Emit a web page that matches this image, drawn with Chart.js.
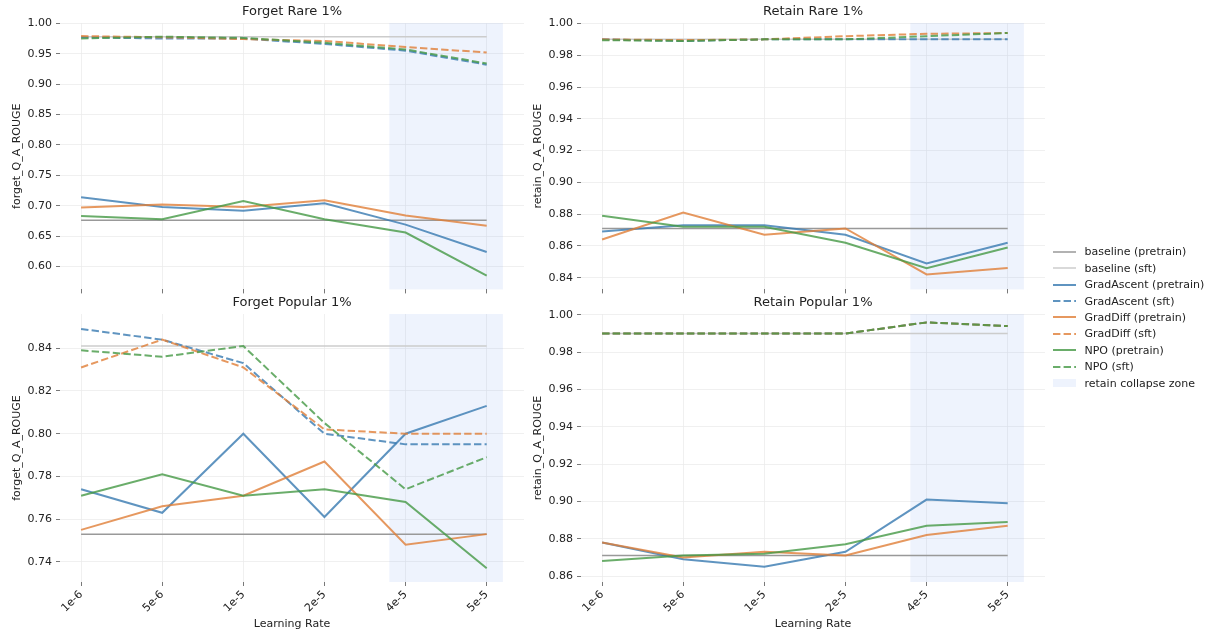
<!DOCTYPE html>
<html>
<head>
<meta charset="utf-8">
<script src="https://cdn.jsdelivr.net/npm/chart.js@4.4.0/dist/chart.umd.min.js"></script>
<style>
  body { margin: 0; background: #fff; width: 1210px; height: 635px; overflow: hidden; position: relative; font-family: "DejaVu Sans", sans-serif; }
  canvas { position: absolute; }
  #legend { position: absolute; left: 1053px; top: 243.5px; font-size: 11px; color: #222; }
  .row { height: 16.45px; display: flex; align-items: center; white-space: nowrap; }
  .row svg { margin-right: 8.5px; flex: none; }
</style>
</head>
<body>
<canvas id="c0" width="540" height="300" style="left:0;top:0"></canvas>
<canvas id="c1" width="540" height="300" style="left:521px;top:0"></canvas>
<canvas id="c2" width="540" height="345" style="left:0;top:290px"></canvas>
<canvas id="c3" width="540" height="345" style="left:521px;top:290px"></canvas>
<div id="legend"></div>

<script>
// Learning rates (x categories)
const learningRates = ['1e-6', '5e-6', '1e-5', '2e-5', '4e-5', '5e-5'];

// Forget Rare 1%
const frGA = [0.714, 0.698, 0.692, 0.704, 0.669, 0.624];
const frGD = [0.697, 0.702, 0.698, 0.709, 0.684, 0.667];
const frNPO = [0.683, 0.678, 0.708, 0.678, 0.656, 0.585];
const frGAsft = [0.977, 0.975, 0.975, 0.966, 0.955, 0.932];
const frGDsft = [0.979, 0.977, 0.974, 0.971, 0.961, 0.952];
const frNPOsft = [0.975, 0.978, 0.976, 0.968, 0.957, 0.934];
const frBase = 0.676, frBaseSft = 0.978;
const frTicks = [0.60, 0.65, 0.70, 0.75, 0.80, 0.85, 0.90, 0.95, 1.00];

// Retain Rare 1%
const rrGA = [0.869, 0.873, 0.873, 0.867, 0.849, 0.862];
const rrGD = [0.864, 0.881, 0.867, 0.871, 0.842, 0.846];
const rrNPO = [0.879, 0.872, 0.872, 0.862, 0.846, 0.859];
const rrGAsft = [0.990, 0.989, 0.990, 0.990, 0.990, 0.990];
const rrGDsft = [0.990, 0.9895, 0.990, 0.992, 0.9935, 0.994];
const rrNPOsft = [0.9895, 0.989, 0.990, 0.990, 0.992, 0.994];
const rrBase = 0.871, rrBaseSft = 0.990;
const rrTicks = [0.84, 0.86, 0.88, 0.90, 0.92, 0.94, 0.96, 0.98, 1.00];

// Forget Popular 1%
const fpGA = [0.774, 0.763, 0.800, 0.761, 0.800, 0.813];
const fpGD = [0.755, 0.766, 0.771, 0.787, 0.748, 0.753];
const fpNPO = [0.771, 0.781, 0.771, 0.774, 0.768, 0.737];
const fpGAsft = [0.849, 0.844, 0.833, 0.800, 0.795, 0.795];
const fpGDsft = [0.831, 0.844, 0.831, 0.802, 0.800, 0.800];
const fpNPOsft = [0.839, 0.836, 0.841, 0.805, 0.774, 0.789];
const fpBase = 0.753, fpBaseSft = 0.841;
const fpTicks = [0.74, 0.76, 0.78, 0.80, 0.82, 0.84];

// Retain Popular 1%
const rpGA = [0.878, 0.869, 0.865, 0.873, 0.901, 0.899];
const rpGD = [0.878, 0.870, 0.873, 0.871, 0.882, 0.887];
const rpNPO = [0.868, 0.871, 0.872, 0.877, 0.887, 0.889];
const rpGAsft = [0.990, 0.990, 0.990, 0.990, 0.996, 0.994];
const rpGDsft = [0.990, 0.990, 0.990, 0.990, 0.996, 0.994];
const rpNPOsft = [0.990, 0.990, 0.990, 0.990, 0.996, 0.994];
const rpBase = 0.871, rpBaseSft = 0.990;
const rpTicks = [0.86, 0.88, 0.90, 0.92, 0.94, 0.96, 0.98, 1.00];

// styles
const FONT = '"DejaVu Sans", sans-serif';
const blue = 'rgba(55,121,176,0.8)';
const orange = 'rgba(224,126,55,0.8)';
const green = 'rgba(69,152,69,0.8)';
const basePre = '#999999';
const baseSft = '#cccccc';
const spanColor = 'rgba(100,149,237,0.11)';
const gridColor = '#ececec';
const tickMark = '#555';
const dash = [7.4, 3.2];

// retain collapse zone spans 4e-5 .. 5e-5 (+-0.2 category)
const collapseFrom = learningRates.indexOf('4e-5') - 0.2;
const collapseTo = learningRates.indexOf('5e-5') + 0.2;

const toXY = arr => arr.map((v, i) => ({ x: i, y: v }));
const flat = v => learningRates.map((_, i) => ({ x: i, y: v }));

function makeSets(ga, gaS, gd, gdS, npo, npoS, b, bS) {
    const sets = [
        { label: 'baseline (pretrain)', data: flat(b), borderColor: basePre, borderWidth: 1.5 },
        { label: 'baseline (sft)', data: flat(bS), borderColor: baseSft, borderWidth: 1.5 },
        { label: 'GradAscent (pretrain)', data: toXY(ga), borderColor: blue, borderWidth: 2 },
        { label: 'GradAscent (sft)', data: toXY(gaS), borderColor: blue, borderWidth: 2, borderDash: dash },
        { label: 'GradDiff (pretrain)', data: toXY(gd), borderColor: orange, borderWidth: 2 },
        { label: 'GradDiff (sft)', data: toXY(gdS), borderColor: orange, borderWidth: 2, borderDash: dash },
        { label: 'NPO (pretrain)', data: toXY(npo), borderColor: green, borderWidth: 2 },
        { label: 'NPO (sft)', data: toXY(npoS), borderColor: green, borderWidth: 2, borderDash: dash }
    ];
    // later series drawn on top, like matplotlib
    sets.forEach((s, i) => { s.order = sets.length - i; s.pointRadius = 0; s.tension = 0; s.fill = false; });
    return sets;
}

// shaded zone + panel title
const panelPlugin = {
    id: 'panel',
    beforeDatasetsDraw(chart) {
        const { ctx, chartArea, scales } = chart;
        const x0 = scales.x.getPixelForValue(collapseFrom);
        const x1 = scales.x.getPixelForValue(collapseTo);
        ctx.save();
        ctx.fillStyle = spanColor;
        ctx.fillRect(x0, chartArea.top, x1 - x0, chartArea.bottom - chartArea.top);
        ctx.restore();
    },
    afterDraw(chart) {
        const { ctx, chartArea } = chart;
        ctx.save();
        ctx.font = '13px ' + FONT;
        ctx.fillStyle = '#222';
        ctx.textAlign = 'center';
        ctx.textBaseline = 'middle';
        ctx.fillText(chart.options.panelTitle, (chartArea.left + chartArea.right) / 2, chartArea.top - 11);
        ctx.restore();
    }
};

function makeChart(id, title, yLabel, sets, yMin, yMax, yTicks, bottomRow) {
    const ctx = document.getElementById(id).getContext('2d');
    return new Chart(ctx, {
        type: 'line',
        data: { datasets: sets },
        plugins: [panelPlugin],
        options: {
            panelTitle: title,
            responsive: false,
            animation: false,
            layout: { padding: { top: bottomRow ? 24 : 23, right: 16, left: 0, bottom: 0 } },
            plugins: { legend: { display: false }, tooltip: { enabled: false } },
            scales: {
                x: {
                    type: 'linear',
                    min: -0.26,
                    max: 5.46,
                    afterBuildTicks: s => { s.ticks = learningRates.map((_, i) => ({ value: i })); },
                    afterFit: s => { s.height = bottomRow ? 53 : 10; },
                    border: { display: false },
                    grid: { color: gridColor, lineWidth: 0.8, tickColor: tickMark, tickLength: 4 },
                    ticks: {
                        display: bottomRow,
                        autoSkip: false,
                        minRotation: 45,
                        maxRotation: 45,
                        padding: 2,
                        color: '#222',
                        font: { family: FONT, size: 11 },
                        callback: v => learningRates[v]
                    },
                    title: {
                        display: bottomRow,
                        text: 'Learning Rate',
                        color: '#222',
                        font: { family: FONT, size: 11 },
                        padding: { top: 4, bottom: 4 }
                    }
                },
                y: {
                    min: yMin,
                    max: yMax,
                    afterBuildTicks: s => { s.ticks = yTicks.map(v => ({ value: v })); },
                    afterFit: s => { s.width = 60; },
                    border: { display: false },
                    grid: { color: gridColor, lineWidth: 0.8, tickColor: tickMark, tickLength: 4 },
                    ticks: {
                        padding: 4,
                        color: '#222',
                        font: { family: FONT, size: 11 },
                        callback: v => v.toFixed(2)
                    },
                    title: {
                        display: true,
                        text: yLabel,
                        color: '#222',
                        font: { family: FONT, size: 11 },
                        padding: { top: 11, bottom: 11 }
                    }
                }
            }
        }
    });
}

makeChart('c0', 'Forget Rare 1%', 'forget_Q_A_ROUGE',
    makeSets(frGA, frGAsft, frGD, frGDsft, frNPO, frNPOsft, frBase, frBaseSft), 0.5625, 1.0005, frTicks, false);
makeChart('c1', 'Retain Rare 1%', 'retain_Q_A_ROUGE',
    makeSets(rrGA, rrGAsft, rrGD, rrGDsft, rrNPO, rrNPOsft, rrBase, rrBaseSft), 0.8326, 1.0003, rrTicks, false);
makeChart('c2', 'Forget Popular 1%', 'forget_Q_A_ROUGE',
    makeSets(fpGA, fpGAsft, fpGD, fpGDsft, fpNPO, fpNPOsft, fpBase, fpBaseSft), 0.7306, 0.856, fpTicks, true);
makeChart('c3', 'Retain Popular 1%', 'retain_Q_A_ROUGE',
    makeSets(rpGA, rpGAsft, rpGD, rpGDsft, rpNPO, rpNPOsft, rpBase, rpBaseSft), 0.8568, 1.0005, rpTicks, true);

// legend (shared)
const legendItems = [
    ['baseline (pretrain)', basePre, 1.5, false],
    ['baseline (sft)', baseSft, 1.5, false],
    ['GradAscent (pretrain)', blue, 2, false],
    ['GradAscent (sft)', blue, 2, true],
    ['GradDiff (pretrain)', orange, 2, false],
    ['GradDiff (sft)', orange, 2, true],
    ['NPO (pretrain)', green, 2, false],
    ['NPO (sft)', green, 2, true]
];
const legend = document.getElementById('legend');
legendItems.forEach(([text, color, w, dashed]) => {
    const row = document.createElement('div');
    row.className = 'row';
    row.innerHTML = '<svg width="23" height="8"><line x1="0" y1="4" x2="23" y2="4" stroke="' + color +
        '" stroke-width="' + w + '"' + (dashed ? ' stroke-dasharray="' + dash.join(' ') + '"' : '') + '/></svg>' +
        '<span>' + text + '</span>';
    legend.appendChild(row);
});
const zoneRow = document.createElement('div');
zoneRow.className = 'row';
zoneRow.innerHTML = '<svg width="23" height="8"><rect x="0" y="0" width="23" height="8" fill="' + spanColor + '"/></svg><span>retain collapse zone</span>';
legend.appendChild(zoneRow);
</script>
</body>
</html>
